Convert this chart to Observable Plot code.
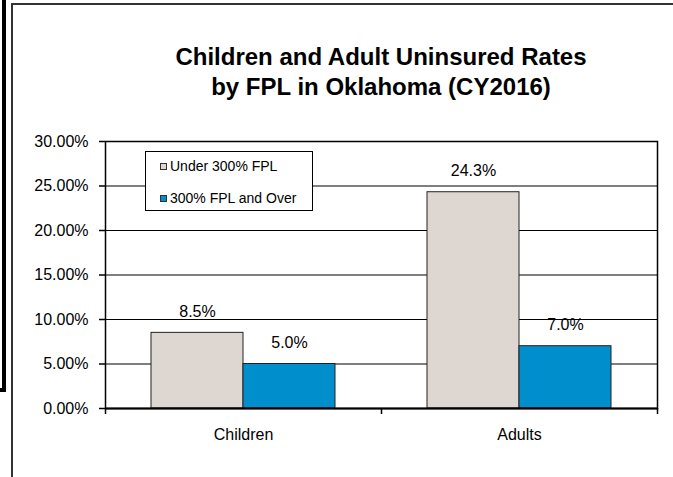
<!DOCTYPE html>
<html>
<head>
<meta charset="utf-8">
<script src="https://cdn.jsdelivr.net/npm/d3@7"></script>
<script src="https://cdn.jsdelivr.net/npm/@observablehq/plot@0.6"></script>
<style>
  body { margin: 0; background: #fff; font-family: "Liberation Sans", Arial, sans-serif; }
  #wrap { position: relative; width: 673px; height: 477px; overflow: hidden; background: #fff; }
  #chart { position: absolute; left: 0; top: 0; }
  #title { position: absolute; left: 85px; width: 592px; top: 42px; text-align: center;
           font-weight: bold; font-size: 24px; line-height: 30px; color: #000; }
  #frame { position: absolute; left: 11px; top: 3px; right: -10px; bottom: -10px;
           border-left: 2px solid #333; border-top: 2px solid #333; }
  #edge { position: absolute; left: 2px; top: 0; width: 4px; height: 392px; background: #000; }
  #foot { position: absolute; left: 0; top: 388px; width: 6px; height: 4px; background: #000; }
  #legend { position: absolute; left: 145px; top: 151px; width: 166px; height: 58px;
            border: 1.5px solid #000; background: #fff; font-size: 14px; }
  .item { position: absolute; left: 14px; height: 16px; line-height: 16px; white-space: nowrap; }
  .sw { display: inline-block; width: 5px; height: 5px; border: 1px solid #333; margin-right: 3px; vertical-align: 1px; }
</style>
</head>
<body>
<div id="wrap">
  <div id="edge"></div>
  <div id="foot"></div>
  <div id="frame"></div>
  <div id="chart"></div>
  <div id="title">Children and Adult Uninsured Rates<br>by FPL in Oklahoma (CY2016)</div>
  <div id="legend"></div>
</div>
<script>
// ---- data ----
const categories = ["Children", "Adults"];
const seriesNames = ["Under 300% FPL", "300% FPL and Over"];
const under300 = [0.085, 0.243];
const over300 = [0.050, 0.070];
const yTicks = [0, 0.05, 0.10, 0.15, 0.20, 0.25, 0.30];
const seriesColors = ["#DED7D1", "#008FCC"];

const seriesValues = [under300, over300];
const rows = [];
seriesNames.forEach((s, si) => categories.forEach((c, ci) =>
  rows.push({category: c, series: s, value: seriesValues[si][ci]})));

// ---- layout ----
const W = 673, H = 477;
const mL = 105, mR = 16, mT = 141, mB = 69;
const band = (W - mL - mR) / categories.length;
const barW = band / 3;

const pct1 = d3.format(".1%");
const pct2 = d3.format(".2%");

const barMarks = [];
const labelMarks = [];
seriesNames.forEach((s, si) => {
  const data = rows.filter(d => d.series === s);
  const left = band / 6 + si * barW;
  barMarks.push(Plot.barY(data, {
    x: "category", y: "value", fill: seriesColors[si], stroke: "#222", strokeWidth: 1,
    insetLeft: left, insetRight: band - left - barW
  }));
  labelMarks.push(Plot.text(data, {
    x: "category", y: "value", text: d => pct1(d.value),
    dx: left + barW / 2 - band / 2, dy: -21, lineAnchor: "middle", fontSize: 16, fill: "#000"
  }));
});

const chart = Plot.plot({
  width: W, height: H,
  marginLeft: mL, marginRight: mR, marginTop: mT, marginBottom: mB,
  style: {fontFamily: "Liberation Sans, Arial, sans-serif", fontSize: "16px", color: "#000", background: "transparent", overflow: "visible"},
  x: {domain: categories, padding: 0, axis: null, label: null},
  y: {domain: [0, 0.30], axis: null, label: null},
  marks: [
    Plot.ruleY(yTicks, {stroke: "#000", strokeWidth: 1.2}),
    ...barMarks,
    ...labelMarks,
    Plot.frame({stroke: "#000", strokeWidth: 1.5}),
    Plot.ruleY([0], {stroke: "#000", strokeWidth: 2.2}),
    Plot.axisY(yTicks, {tickFormat: pct2, tickSize: 6, tickPadding: 11, fontSize: 16, stroke: "#000", strokeWidth: 1.5, label: null}),
    Plot.axisX(categories, {tickSize: 6, tickFormat: () => "", dx: -band / 2, stroke: "#000", strokeWidth: 1.5, label: null}),
    Plot.axisX(categories.slice(-1), {tickSize: 6, tickFormat: () => "", dx: band / 2, stroke: "#000", strokeWidth: 1.5, label: null}),
    Plot.axisX(categories, {tickSize: 0, tickPadding: 20, fontSize: 16, label: null})
  ]
});
document.getElementById("chart").appendChild(chart);

// ---- legend ----
const legend = document.getElementById("legend");
seriesNames.forEach((s, i) => {
  const it = document.createElement("div");
  it.className = "item";
  it.style.top = (6 + i * 32) + "px";
  const sw = document.createElement("span");
  sw.className = "sw";
  sw.style.background = seriesColors[i];
  it.appendChild(sw);
  it.appendChild(document.createTextNode(s));
  legend.appendChild(it);
});
</script>
</body>
</html>
